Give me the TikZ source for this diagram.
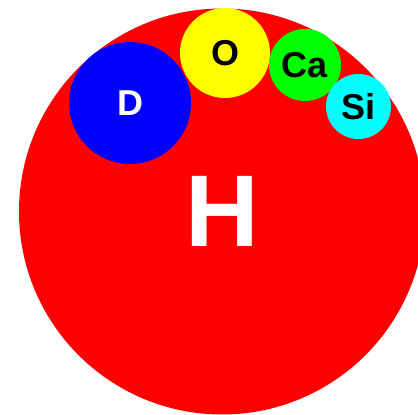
\documentclass[tikz,border=0pt]{standalone}
\usepackage{fontspec}
\setmainfont{Liberation Sans}
\usepackage{xcolor}
\definecolor{hred}{HTML}{FF0000}
\definecolor{dblue}{HTML}{0000FF}
\definecolor{oyellow}{HTML}{FFFF00}
\definecolor{cagreen}{HTML}{00FF00}
\definecolor{sicyan}{HTML}{00FFFF}

\begin{document}
\begin{tikzpicture}[
    x=1pt, y=1pt,
    blob/.style={circle, inner sep=0pt, draw=none,
                 font=\fontsize{36}{36}\selectfont\bfseries},
    big/.style={blob, font=\fontsize{102}{102}\selectfont\bfseries},
]

\useasboundingbox (0,0) rectangle (418,415);
\clip (0,0) rectangle (418,415);

% Grosser Kreis
\node[big, fill=hred, text=white, minimum size=406pt] (H) at (222,203.5) {H};

% Kleine Kreise
\node[blob, fill=dblue, text=white, minimum size=122pt] (D) at (130,312) {D};
\node[blob, fill=oyellow, text=black, minimum size=90pt] (O) at (225,362) {O};
\node[blob, fill=cagreen, text=black, minimum size=72pt] (Ca) at (305,350) {Ca};
\node[blob, fill=sicyan, text=black, minimum size=65pt] (Si) at (358.5,308.5) {Si};

\end{tikzpicture}
\end{document}
